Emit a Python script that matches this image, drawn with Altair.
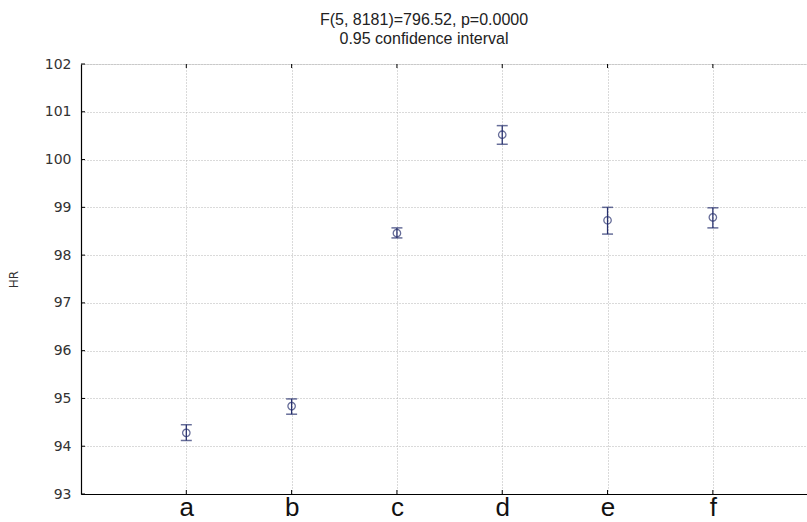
import altair as alt
import pandas as pd

categories = ["a", "b", "c", "d", "e", "f"]
means = [94.28, 94.84, 98.46, 100.52, 98.73, 98.79]
lower = [94.12, 94.67, 98.36, 100.32, 98.44, 98.57]
upper = [94.45, 94.99, 98.57, 100.71, 99.00, 98.99]
y_ticks = [93, 94, 95, 96, 97, 98, 99, 100, 101, 102]

df = pd.DataFrame({
    "pos": list(range(1, len(categories) + 1)),
    "cat": categories,
    "mean": means,
    "lo": lower,
    "hi": upper,
})
ticks_df = pd.DataFrame({"t": y_ticks})

label_expr = "[" + ",".join(f"'{c}'" for c in categories) + "][datum.value-1]"

xscale = alt.Scale(domain=[0, 6.894], nice=False, zero=False)
yscale = alt.Scale(domain=[93, 102], nice=False, zero=False)

NAVY = "#27306e"

base = alt.Chart(df)

x_enc = alt.X(
    "pos:Q", scale=xscale,
    axis=alt.Axis(
        values=list(range(1, len(categories) + 1)), labelExpr=label_expr, title=None,
        labelFontSize=26, labelFont="Liberation Sans", labelColor="#111",
        labelPadding=0, tickSize=0, domainColor="#000", domainWidth=1.2,
        grid=True, gridColor="#b5b5b5", gridDash=[1, 2], gridWidth=1,
    ),
)

points = base.mark_point(shape="circle", filled=False, size=55, color=NAVY, strokeWidth=1.3).encode(
    x=x_enc,
    y=alt.Y(
        "mean:Q", scale=yscale,
        axis=alt.Axis(
            values=y_ticks, title="HR", titleFontSize=12, titleFont="DejaVu Sans",
            titleFontWeight="normal", titleColor="#333", titlePadding=24,
            labelFontSize=14, labelFont="DejaVu Sans", labelColor="#333",
            labelPadding=10, tickSize=0, domainColor="#000", domainWidth=1.2,
            grid=True, gridColor="#b5b5b5", gridDash=[1, 2], gridWidth=1,
        ),
    ),
)

bars = base.mark_rule(color=NAVY, strokeWidth=1.3).encode(
    x=alt.X("pos:Q", scale=xscale),
    y=alt.Y("lo:Q", scale=yscale),
    y2="hi:Q",
)
caps_hi = base.mark_tick(color=NAVY, thickness=1.5, size=11, orient="horizontal").encode(
    x=alt.X("pos:Q", scale=xscale), y=alt.Y("hi:Q", scale=yscale)
)
caps_lo = base.mark_tick(color=NAVY, thickness=1.5, size=11, orient="horizontal").encode(
    x=alt.X("pos:Q", scale=xscale), y=alt.Y("lo:Q", scale=yscale)
)

inner_y_ticks = alt.Chart(ticks_df).mark_rule(color="#000", strokeWidth=1).encode(
    y=alt.Y("t:Q", scale=yscale), x=alt.value(0), x2=alt.value(4)
)
inner_x_ticks_b = base.mark_rule(color="#000", strokeWidth=1).encode(
    x=alt.X("pos:Q", scale=xscale), y=alt.value(430), y2=alt.value(426)
)
inner_x_ticks_t = base.mark_rule(color="#000", strokeWidth=1).encode(
    x=alt.X("pos:Q", scale=xscale), y=alt.value(0), y2=alt.value(4)
)

chart = alt.layer(
    inner_y_ticks, inner_x_ticks_b, inner_x_ticks_t, bars, caps_hi, caps_lo, points
).properties(
    width=726,
    height=430,
    autosize=alt.AutoSizeParams(type="none"),
    padding={"left": 81, "top": 64, "right": 0, "bottom": 28},
    title=alt.TitleParams(
        text=["F(5, 8181)=796.52, p=0.0000", "0.95 confidence interval"],
        fontSize=16, font="Liberation Sans", fontWeight="normal", color="#222",
        lineHeight=19, anchor="middle", offset=10, dx=-20,
    ),
).configure_view(stroke="#000", strokeWidth=1.2).configure(background="white")

chart.save("out.html", embed_options={"renderer": "svg", "actions": False})
